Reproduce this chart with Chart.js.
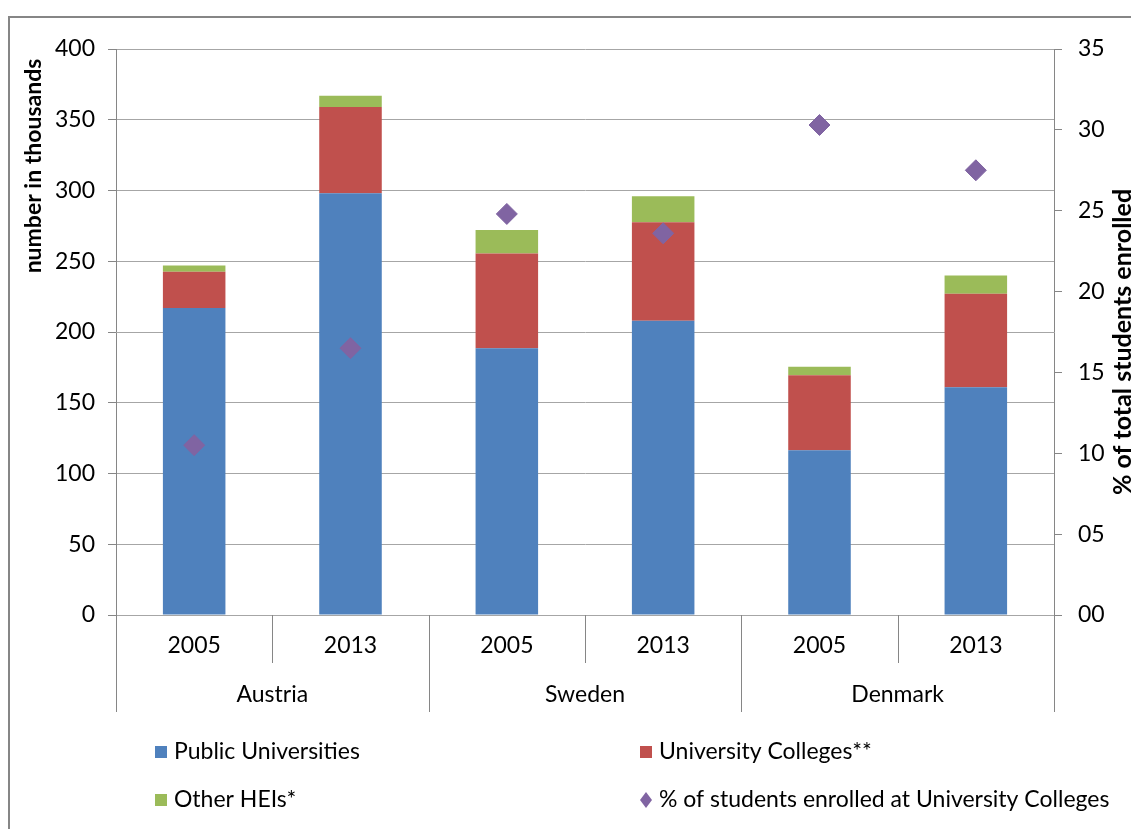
<!DOCTYPE html>
<html><head><meta charset="utf-8">
<script src="https://cdn.jsdelivr.net/npm/chart.js@4/dist/chart.umd.min.js"></script>
<style>html,body{margin:0;padding:0;background:#fff;overflow:hidden}</style>
</head><body>
<canvas id="c" width="1131" height="829" style="width:1131px;height:829px;display:block"></canvas>
<script>
const years = ['2005','2013','2005','2013','2005','2013'];
const countries = ['Austria','Sweden','Denmark'];
const publicUniversities = [217, 298, 188.5, 208, 116.5, 161];
const universityColleges = [25.5, 61, 67, 69.5, 53, 66];
const otherHEIs = [4.5, 8, 16.5, 18.5, 6, 13];
const pctUniversityColleges = [10.5, 16.5, 24.8, 23.6, 30.3, 27.5];
const leftAxisTitle = 'number in thousands';
const rightAxisTitle = '% of total students enrolled';
const seriesNames = ['Public Universities','University Colleges**','Other HEIs*','% of students enrolled at University Colleges'];

const FONT = 'Lato, "Open Sans", sans-serif';
const AXIS = '#868686';

const customDraw = {
  id: 'customDraw',
  beforeDraw(chart) {
    const ctx = chart.ctx;
    ctx.save();
    ctx.fillStyle = '#fff';
    ctx.fillRect(0, 0, chart.width, chart.height);
    ctx.strokeStyle = AXIS;
    ctx.lineWidth = 2;
    ctx.beginPath();
    ctx.moveTo(9, chart.height);
    ctx.lineTo(9, 17);
    ctx.lineTo(chart.width, 17);
    ctx.stroke();
    ctx.restore();
  },
  afterDraw(chart) {
    const ctx = chart.ctx;
    const a = chart.chartArea;
    const xs = chart.scales.x;
    const n = years.length;
    const w = (a.right - a.left) / n;
    ctx.save();
    ctx.strokeStyle = AXIS;
    ctx.lineWidth = 1;
    for (let k = 0; k <= n; k++) {
      const x = Math.round(a.left + k * w) + 0.5;
      const end = (k % 2 === 0) ? a.bottom + 97 : a.bottom + 48;
      ctx.beginPath();
      ctx.moveTo(x, a.bottom);
      ctx.lineTo(x, end);
      ctx.stroke();
    }
    ctx.fillStyle = '#000';
    ctx.font = '23px ' + FONT;
    ctx.textAlign = 'center';
    ctx.textBaseline = 'middle';
    years.forEach((y, i) => ctx.fillText(y, xs.getPixelForValue(i), a.bottom + 31));
    countries.forEach((c, i) => {
      const cx = (xs.getPixelForValue(2 * i) + xs.getPixelForValue(2 * i + 1)) / 2;
      ctx.fillText(c, cx, a.bottom + 80);
    });
    // axis titles
    ctx.textBaseline = 'alphabetic';
    ctx.font = 'bold 23px ' + FONT;
    ctx.save();
    ctx.translate(41, 166);
    ctx.rotate(-Math.PI / 2);
    ctx.fillText(leftAxisTitle, 0, 0);
    ctx.restore();
    ctx.font = 'bold 25px ' + FONT;
    ctx.save();
    ctx.translate(1131, 342);
    ctx.rotate(-Math.PI / 2);
    ctx.fillText(rightAxisTitle, 0, 0);
    ctx.restore();
    // legend
    const ds = chart.data.datasets;
    const pos = [[155, 752], [640, 752], [155, 800], [640, 800]];
    ctx.font = '23px ' + FONT;
    ctx.textAlign = 'left';
    ctx.textBaseline = 'middle';
    ds.forEach((d, j) => {
      const [x, y] = pos[j];
      ctx.fillStyle = d.backgroundColor;
      if (d.type === 'line') {
        ctx.beginPath();
        ctx.moveTo(x + 6, y - 8);
        ctx.lineTo(x + 12, y);
        ctx.lineTo(x + 6, y + 8);
        ctx.lineTo(x, y);
        ctx.closePath();
        ctx.fill();
      } else {
        ctx.fillRect(x, y - 6, 12, 12);
      }
      ctx.fillStyle = '#000';
      ctx.fillText(d.label, x + 19, y);
    });
    ctx.restore();
  }
};

new Chart(document.getElementById('c'), {
  data: {
    labels: years,
    datasets: [
      { type: 'bar', label: seriesNames[0], data: publicUniversities, backgroundColor: '#4F81BD', yAxisID: 'y', order: 1, barPercentage: 0.4, categoryPercentage: 1 },
      { type: 'bar', label: seriesNames[1], data: universityColleges, backgroundColor: '#C0504D', yAxisID: 'y', order: 1, barPercentage: 0.4, categoryPercentage: 1 },
      { type: 'bar', label: seriesNames[2], data: otherHEIs, backgroundColor: '#9BBB59', yAxisID: 'y', order: 1, barPercentage: 0.4, categoryPercentage: 1 },
      { type: 'line', label: seriesNames[3], data: pctUniversityColleges, backgroundColor: '#8064A2', borderColor: '#8064A2', showLine: false, pointStyle: 'rectRot', pointRadius: 10.5, pointHoverRadius: 10.5, yAxisID: 'y1', order: 0 }
    ]
  },
  options: {
    responsive: false,
    animation: false,
    devicePixelRatio: 1,
    layout: { padding: { left: 0, top: 49, right: 0, bottom: 214 } },
    plugins: { legend: { display: false }, tooltip: { enabled: false } },
    scales: {
      x: { type: 'category', stacked: true, offset: true, display: false },
      y: {
        stacked: true, position: 'left', min: 0, max: 400,
        ticks: { stepSize: 50, color: '#000', font: { family: FONT, size: 23 }, padding: 13 },
        grid: { color: '#a6a6a6', tickLength: 8, tickColor: AXIS },
        border: { display: true, color: AXIS },
        afterFit(s) { s.width = 116; }
      },
      y1: {
        position: 'right', min: 0, max: 35,
        ticks: { stepSize: 5, color: '#000', font: { family: FONT, size: 23 }, padding: 16,
          callback: v => String(v).padStart(2, '0') },
        grid: { drawOnChartArea: false, tickLength: 8, color: AXIS },
        border: { display: true, color: AXIS },
        afterFit(s) { s.width = 77; }
      }
    }
  },
  plugins: [customDraw]
});
</script>
</body></html>
